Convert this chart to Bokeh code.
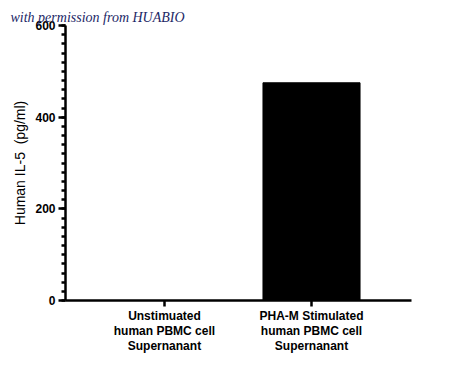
from bokeh.plotting import figure
from bokeh.models import FixedTicker, Title, Range1d
from bokeh.embed import file_html
from bokeh.resources import INLINE

categories = ["Unstimuated\nhuman PBMC cell\nSupernanant",
              "PHA-M Stimulated\nhuman PBMC cell\nSupernanant"]
positions = [1, 2]
values = [0, 475]
y_ticks = [0, 200, 400, 600]

p = figure(width=450, height=377, output_backend="svg", toolbar_location=None,
           x_range=Range1d(0.327, 2.68), y_range=Range1d(0, 600),
           min_border_left=65, min_border_right=39, min_border_top=25, min_border_bottom=77)
p.outline_line_color = None
p.xgrid.visible = False
p.ygrid.visible = False
p.background_fill_color = "white"

p.vbar(x=positions, top=values, width=0.66, fill_color="black", line_color="black")

# y axis
ya = p.yaxis[0]
ya.ticker = FixedTicker(ticks=y_ticks, minor_ticks=list(range(0, 601, 20)))
ya.axis_line_width = 2.5
ya.major_tick_line_width = 2.5
ya.minor_tick_line_width = 2.5
ya.major_tick_out = 7
ya.major_tick_in = 0
ya.minor_tick_out = 4
ya.minor_tick_in = 0
ya.major_label_text_font = "Liberation Sans"
ya.major_label_text_font_style = "bold"
ya.major_label_text_font_size = "12px"
ya.major_label_text_color = "black"
ya.major_label_standoff = 3
ya.axis_label = "Human IL-5\u00a0\u00a0(pg/ml)"
ya.axis_label_text_font = "Liberation Sans"
ya.axis_label_text_font_style = "normal"
ya.axis_label_text_font_size = "14px"
ya.axis_label_text_color = "black"
ya.axis_label_standoff = 4

# x axis
xa = p.xaxis[0]
xa.ticker = FixedTicker(ticks=positions)
xa.major_label_overrides = {pos: lab for pos, lab in zip(positions, categories)}
xa.axis_line_width = 2.5
xa.major_tick_line_width = 2.5
xa.major_tick_out = 6
xa.major_tick_in = 0
xa.minor_tick_line_color = None
xa.major_label_text_font = "Liberation Sans"
xa.major_label_text_font_style = "bold"
xa.major_label_text_font_size = "12px"
xa.major_label_text_color = "black"
xa.major_label_standoff = 2
xa.major_label_text_line_height = 1.1

t = Title(text="with permission from HUABIO", text_font="Liberation Serif",
          text_font_style="italic", text_font_size="14px", text_color="#1c2766",
          align="left", offset=-55, standoff=2)
p.add_layout(t, "above")

open("out.html", "w").write(file_html(p, INLINE))
